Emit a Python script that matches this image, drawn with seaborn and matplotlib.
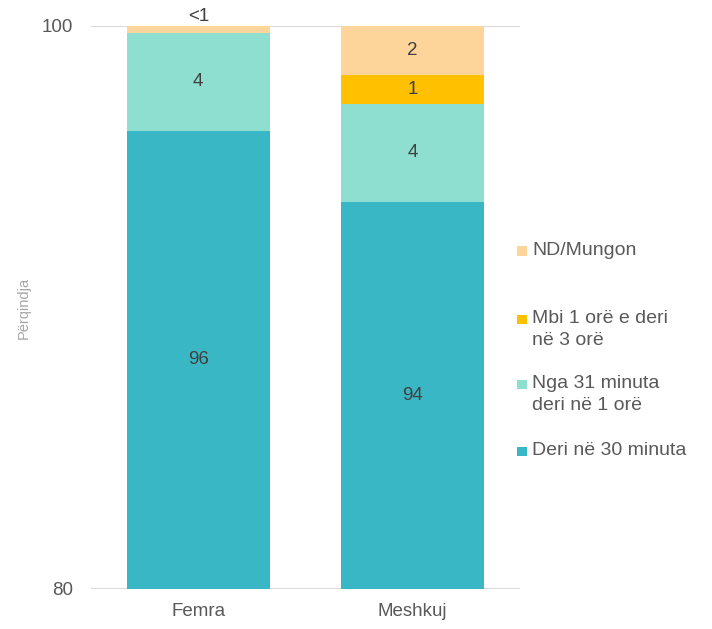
import matplotlib
matplotlib.use("Agg")
import matplotlib.pyplot as plt
import seaborn as sns
from matplotlib.patches import Rectangle

# data (percent)
groups = ["Femra", "Meshkuj"]
series = ["Deri në 30 minuta", "Nga 31 minuta\nderi në 1 orë", "Mbi 1 orë e deri\nnë 3 orë", "ND/Mungon"]
deri_30 = [96.27, 93.75]
nga_31 = [3.48, 3.48]
mbi_1 = [0.0, 1.03]
nd = [0.25, 1.74]
labels = [["96", "94"], ["4", "4"], ["", "1"], ["<1", "2"]]
colors = ["#3AB7C5", "#8FDFD0", "#FFC000", "#FDD499"]

sns.set_style("white")
plt.rcParams["font.family"] = ["Liberation Sans", "DejaVu Sans"]

fig = plt.figure(figsize=(7.12, 6.29), dpi=100)
ax = fig.add_axes([0.128, 0.0636, 0.602, 0.8951])

vals = [deri_30, nga_31, mbi_1, nd]
bottoms = [0.0, 0.0]
ymin, ymax = 80, 100
for s, v, c, lab in zip(series, vals, colors, labels):
    sns.barplot(x=groups, y=v, bottom=bottoms, color=c, saturation=1,
                width=0.665, linewidth=0, ax=ax)
    for i, g in enumerate(groups):
        if not lab[i]:
            continue
        lo = max(bottoms[i], ymin)
        hi = bottoms[i] + v[i]
        if hi - lo < 0.5:
            ax.annotate(lab[i], (i, hi), xytext=(0, 1), textcoords="offset points",
                        ha="center", va="bottom", fontsize=13.5, color="#404040")
        else:
            ax.text(i, (lo + hi) / 2, lab[i], ha="center", va="center",
                    fontsize=13.5, color="#404040")
    bottoms = [b + x for b, x in zip(bottoms, v)]

ax.set_ylim(ymin, ymax)
ax.set_xlim(-0.5, 1.5)
ax.set_yticks([80, 100])
for yv in [80, 100]:
    ax.axhline(yv, color="#D9D9D9", linewidth=1.5, zorder=0)
for sp in ax.spines.values():
    sp.set_visible(False)
ax.tick_params(axis="y", length=0, pad=13, labelsize=13.5, labelcolor="#595959")
ax.tick_params(axis="x", length=0, pad=10, labelsize=13.5, labelcolor="#595959")
ax.set_xlabel("")
ax.set_ylabel("Përqindja", fontsize=10.5, color="#A6A6A6")
ax.yaxis.set_label_coords(-0.142, 0.5)

# legend, top entry first, evenly spaced like the original
leg_y = [251, 319, 384, 451]
W, H = 712, 629
for s, c, y in zip(series[::-1], colors[::-1], leg_y):
    fig.add_artist(Rectangle((517 / W, 1 - (y + 4.5) / H), 10 / W, 9 / H,
                             transform=fig.transFigure, color=c, linewidth=0))
    fig.text(532 / W, 1 - (y - 9) / H, s, ha="left", va="top", fontsize=14,
             color="#595959", linespacing=1.4)

fig.savefig("out.png", dpi=100)
